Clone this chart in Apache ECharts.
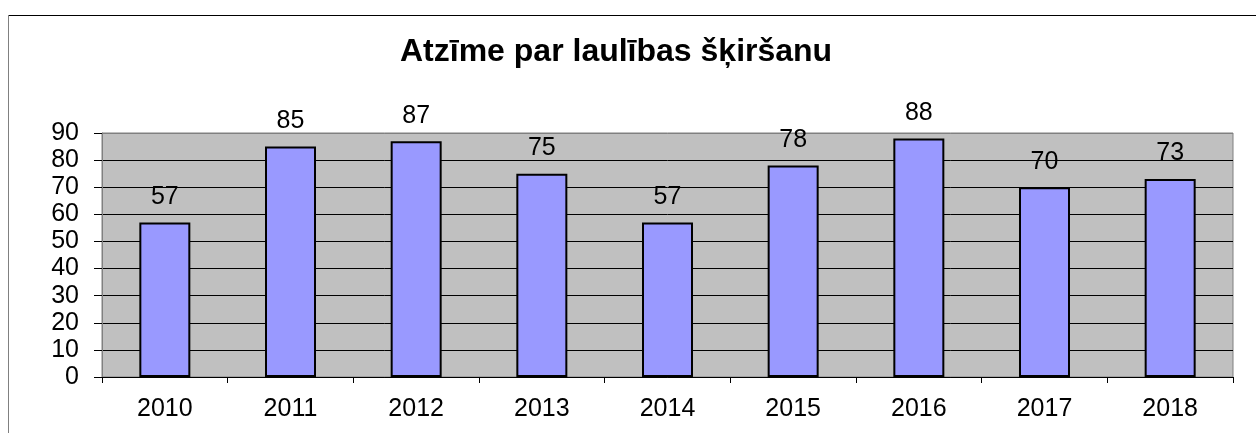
<!DOCTYPE html>
<html>
<head>
<meta charset="utf-8">
<script src="https://cdn.jsdelivr.net/npm/echarts@6/dist/echarts.min.js"></script>
<style>html,body{margin:0;padding:0;background:#fff}#c{width:1256px;height:433px}</style>
</head>
<body>
<div id="c"></div>
<script>
const titleText = 'Atzīme par laulības šķiršanu';
const years = ['2010','2011','2012','2013','2014','2015','2016','2017','2018'];
const values = [57, 85, 87, 75, 57, 78, 88, 70, 73];
const yMin = 0, yMax = 90, yStep = 10;

const FONT = '"Liberation Sans", Arial, sans-serif';
const chart = echarts.init(document.getElementById('c'), null, {renderer: 'canvas'});
const gridColors = [];
for (let v = yMin; v <= yMax; v += yStep) gridColors.push(v === yMax ? '#808080' : '#000000');

chart.setOption({
  animation: false,
  backgroundColor: '#ffffff',
  title: {
    text: titleText,
    left: 400,
    top: 36,
    padding: 0,
    textStyle: {fontFamily: FONT, fontSize: 32, fontWeight: 'bold', color: '#000'}
  },
  graphic: [
    {type: 'line', shape: {x1: 8, y1: 15.5, x2: 1256, y2: 15.5}, style: {stroke: '#000', lineWidth: 1}, silent: true},
    {type: 'line', shape: {x1: 8.5, y1: 15, x2: 8.5, y2: 433}, style: {stroke: '#808080', lineWidth: 1}, silent: true}
  ],
  grid: {
    left: 102, right: 23, top: 133, bottom: 56,
    show: true, backgroundColor: '#c0c0c0', borderColor: '#808080', borderWidth: 1
  },
  xAxis: {
    type: 'category',
    data: years,
    boundaryGap: true,
    axisLine: {show: true, lineStyle: {color: '#000', width: 1}},
    axisTick: {show: true, length: 6, lineStyle: {color: '#000'}},
    axisLabel: {margin: 20, fontFamily: FONT, fontSize: 25, color: '#000'},
    splitLine: {show: false}
  },
  yAxis: {
    type: 'value',
    min: yMin, max: yMax, interval: yStep,
    axisLine: {show: true, lineStyle: {color: '#808080', width: 1}},
    axisTick: {show: true, length: 8, lineStyle: {color: '#000'}},
    axisLabel: {margin: 23, fontFamily: FONT, fontSize: 25, color: '#000'},
    splitLine: {show: true, lineStyle: {color: gridColors, width: 1}}
  },
  series: [{
    type: 'bar',
    data: values,
    barWidth: 51,
    itemStyle: {color: '#9999ff', borderColor: '#000', borderWidth: 2},
    label: {
      show: true, position: 'top', distance: 13,
      fontFamily: FONT, fontSize: 25, color: '#000'
    }
  }]
});
</script>
</body>
</html>
